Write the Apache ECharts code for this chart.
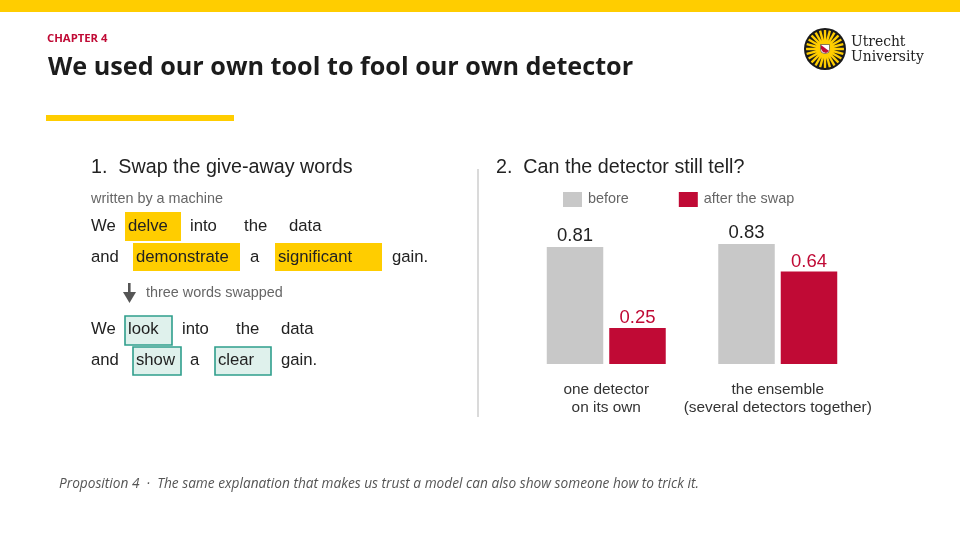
<!DOCTYPE html>
<html><head><meta charset="utf-8">
<style>html,body{margin:0;padding:0;background:#fff}#c{width:960px;height:540px}</style>
<script src="https://cdn.jsdelivr.net/npm/echarts@6/dist/echarts.min.js"></script>
</head><body><div id="c"></div>
<script>
var categories = ['one detector\non its own', 'the ensemble\n(several detectors together)'];
var seriesNames = ['before', 'after the swap'];
var beforeValues = [0.81, 0.83];
var afterValues = [0.25, 0.64];

var chapterText = 'CHAPTER 4';
var titleText = 'We used our own tool to fool our own detector';
var heading1 = '1.  Swap the give-away words';
var heading2 = '2.  Can the detector still tell?';
var sourceNote = 'written by a machine';
var swapNote = 'three words swapped';
var footerText = 'Proposition 4  ·  The same explanation that makes us trust a model can also show someone how to trick it.';
var logoWords = ['Utrecht', 'University'];

// [word, text x, text y, box x0, box y0, box x1, box y1]
var beforeWords = [
  ['We', 91, 226.5], ['delve', 128, 226.5, 125, 212, 181, 241], ['into', 190, 226.5], ['the', 244, 226.5], ['data', 289, 226.5],
  ['and', 91, 257.5], ['demonstrate', 136, 257.5, 133, 243, 240, 271], ['a', 250, 257.5], ['significant', 278, 257.5, 275, 243, 382, 271], ['gain.', 392, 257.5]
];
var afterWords = [
  ['We', 91, 329.5], ['look', 128, 329.5, 125, 316, 172, 345], ['into', 182, 329.5], ['the', 236, 329.5], ['data', 281, 329.5],
  ['and', 91, 360.5], ['show', 136, 360.5, 133, 347, 181, 375], ['a', 190, 360.5], ['clear', 218, 360.5, 215, 347, 271, 375], ['gain.', 281, 360.5]
];

var YELLOW = '#FFCD00', RED = '#C00A35', GREY = '#C8C8C8', HELV = '"Liberation Sans", Arial, sans-serif', OPEN = '"Open Sans", sans-serif';

function txt(s, x, y, size, color, extra) {
  var st = { text: s, x: x, y: y, fontSize: size, fill: color, fontFamily: HELV, verticalAlign: 'middle', align: 'left' };
  for (var k in (extra || {})) st[k] = extra[k];
  return { type: 'text', silent: true, z: 20, style: st };
}
function rect(x0, y0, x1, y1, fill, stroke, lw) {
  return { type: 'rect', silent: true, z: 10, shape: { x: x0, y: y0, width: x1 - x0, height: y1 - y0 },
           style: { fill: fill, stroke: stroke || null, lineWidth: lw || 0 } };
}
var g = [];
g.push(rect(0, 0, 960, 12, YELLOW));
g.push(rect(46, 115, 234, 121, YELLOW));
g.push(txt(chapterText, 47, 38.5, 11.3, RED, { fontFamily: OPEN, fontWeight: 'bold' }));
g.push(txt(titleText, 48, 68, 25.2, '#1c1c1c', { fontFamily: OPEN, fontWeight: 'bold' }));
g.push(txt(heading1, 91, 168, 19.7, '#222'));
g.push(txt(heading2, 496, 168, 19.7, '#222'));
g.push(txt(sourceNote, 91, 199.5, 14.4, '#666'));
g.push(txt(swapNote, 146, 293.5, 14.4, '#666'));
g.push(txt(footerText, 59, 484.5, 13.7, '#555', { fontFamily: OPEN, fontStyle: 'italic' }));
g.push(rect(477, 169, 479, 417, '#DADADA'));

beforeWords.forEach(function (w) {
  if (w.length > 3) g.push(rect(w[3], w[4], w[5], w[6], YELLOW));
  g.push(txt(w[0], w[1], w[2], 16.7, '#222'));
});
afterWords.forEach(function (w) {
  if (w.length > 3) g.push(rect(w[3], w[4], w[5], w[6], '#DFF1EC', '#2F9E8C', 1.6));
  g.push(txt(w[0], w[1], w[2], 16.7, '#222'));
});
// arrow
g.push({ type: 'rect', silent: true, z: 10, shape: { x: 128, y: 283, width: 2.6, height: 12 }, style: { fill: '#555' } });
g.push({ type: 'polygon', silent: true, z: 10, shape: { points: [[123, 292], [136, 292], [129.5, 303]] }, style: { fill: '#555' } });

// logo
var cx = 825, cy = 49;
g.push({ type: 'circle', silent: true, z: 10, shape: { cx: cx, cy: cy, r: 21 }, style: { fill: '#1a1a1a' } });
g.push({ type: 'circle', silent: true, z: 11, shape: { cx: cx, cy: cy, r: 19 }, style: { fill: YELLOW } });
for (var i = 0; i < 24; i++) {
  var a = (i + 0.5) / 24 * Math.PI * 2, da = 0.07, r0 = 9, r1 = 20;
  g.push({ type: 'polygon', silent: true, z: 12, shape: { points: [
    [cx + r0 * Math.cos(a), cy + r0 * Math.sin(a)],
    [cx + r1 * Math.cos(a - da), cy + r1 * Math.sin(a - da)],
    [cx + r1 * Math.cos(a + da), cy + r1 * Math.sin(a + da)]
  ] }, style: { fill: '#1a1a1a' } });
}
g.push({ type: 'rect', silent: true, z: 13, shape: { x: cx - 4.5, y: cy - 4.5, width: 9, height: 9, r: [0, 0, 4, 4] }, style: { fill: '#fff', stroke: '#333', lineWidth: 0.6 } });
g.push({ type: 'polygon', silent: true, z: 14, shape: { points: [[cx - 4, cy - 4], [cx + 4, cy + 2], [cx + 1, cy + 4], [cx - 2, cy + 3], [cx - 4, cy]] }, style: { fill: RED } });
g.push(txt(logoWords[0], 851, 42.5, 13.9, '#222', { fontFamily: '"DejaVu Serif", serif' }));
g.push(txt(logoWords[1], 851, 57, 13.9, '#222', { fontFamily: '"DejaVu Serif", serif' }));

var chart = echarts.init(document.getElementById('c'), null, { renderer: 'canvas' });
chart.setOption({
  animation: false,
  backgroundColor: '#fff',
  textStyle: { fontFamily: HELV },
  legend: {
    left: 558, top: 187, itemWidth: 19, itemHeight: 15, itemGap: 50, icon: 'rect',
    textStyle: { fontSize: 14.4, color: '#666', fontFamily: HELV, padding: [2, 0, 0, 1] },
    data: seriesNames, selectedMode: false
  },
  grid: { left: 520.5, width: 343, top: 219.5, height: 144.5 },
  xAxis: {
    type: 'category', data: categories,
    axisLine: { show: false }, axisTick: { show: false },
    axisLabel: { margin: 17, fontSize: 15.4, color: '#333', lineHeight: 18, fontFamily: HELV, interval: 0 }
  },
  yAxis: { type: 'value', min: 0, max: 1, show: false, splitLine: { show: false } },
  series: [
    { name: seriesNames[0], type: 'bar', data: beforeValues, barWidth: 56.5, barGap: '10.6%',
      itemStyle: { color: GREY },
      label: { show: true, position: 'top', distance: 2, fontSize: 18.5, color: '#222', fontFamily: HELV, formatter: function (p) { return p.value.toFixed(2); } } },
    { name: seriesNames[1], type: 'bar', data: afterValues, barWidth: 56.5,
      itemStyle: { color: RED },
      label: { show: true, position: 'top', distance: 0, fontSize: 18.5, color: RED, fontFamily: HELV, formatter: function (p) { return p.value.toFixed(2); } } }
  ],
  graphic: { elements: g }
});
</script></body></html>
